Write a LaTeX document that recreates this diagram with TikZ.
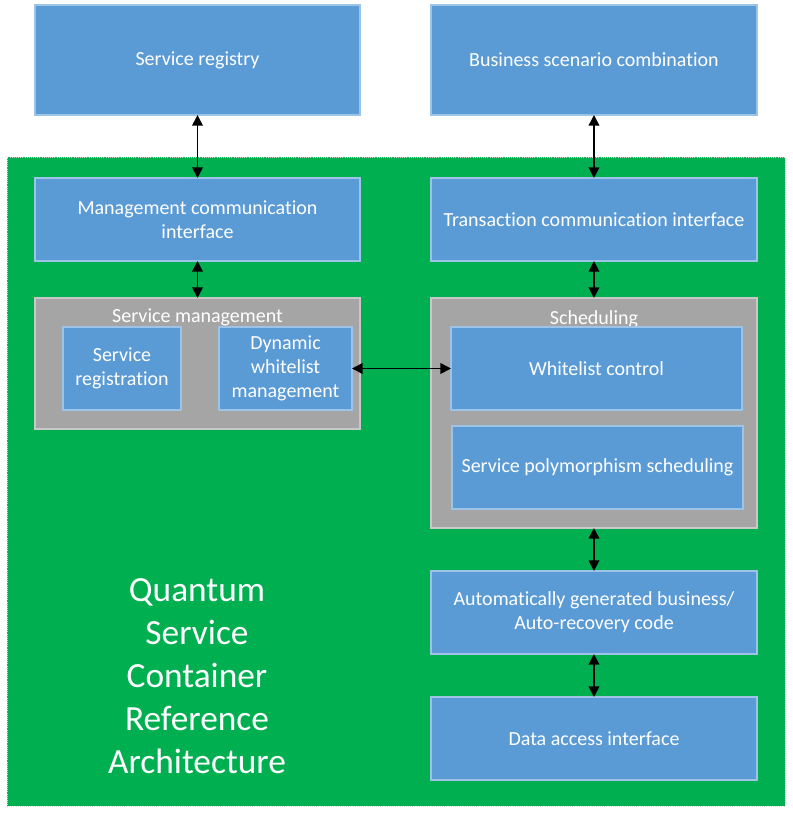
\documentclass[tikz,border=0pt]{standalone}
\usepackage{fontspec}
\setmainfont{Carlito}[Ligatures=NoCommon]
\usepackage{xcolor}
\usetikzlibrary{arrows.meta,positioning}

\definecolor{boxblue}{HTML}{5B9BD5}
\definecolor{boxedge}{HTML}{9DC3E6}
\definecolor{contgreen}{HTML}{00B050}
\definecolor{grpgray}{HTML}{A5A5A5}
\definecolor{grpedge}{HTML}{C8C8C8}

\begin{document}
\begin{tikzpicture}[x=0.75pt,y=-0.75pt,<->,>={Triangle[length=8pt,width=8pt]},line width=1.2pt]
      \tikzstyle{every node}=[inner sep=0pt,outer sep=0pt,text=white,font=\fontsize{15}{18}\selectfont,align=center]
      \tikzstyle{block}=[fill=boxblue,draw=boxedge,line width=0.8pt]
      \tikzstyle{group}=[fill=grpgray,draw=grpedge,line width=0.8pt]

      \useasboundingbox (0,0) rectangle (793,819);

      % container
      \node[fill=contgreen,draw=black!15,densely dotted,line width=0.6pt,minimum width=583.5pt,minimum height=486.75pt] (cont) at (396,481.5) {};

      % top row
      \node[block,minimum width=243.75pt,minimum height=82.5pt] (registry) at (197.5,60) {Service registry};
      \node[block,minimum width=244.5pt,minimum height=82.5pt] (business) at (594,60) {Business scenario combination};

      % left column
      \node[block,minimum width=243.75pt,minimum height=62.25pt] (mgmt) at (197.5,219.5) {Management communication\\interface};
      \node[group,minimum width=243.75pt,minimum height=98.25pt] (svcmgmt) at (197.5,363.5) {};
      \node (svcmgmttitle) at (197.5,317) {Service management};
      \node[block,minimum width=88.5pt,minimum height=62.25pt] (svcreg) at (122,368.5) {Service\\registration};
      \node[block,minimum width=99.75pt,minimum height=62.25pt] (dynwl) at (285.5,368.5) {Dynamic\\whitelist\\management};

      % right column
      \node[block,minimum width=244.5pt,minimum height=62.25pt] (trans) at (594,219.5) {Transaction communication interface};
      \node[group,minimum width=244.5pt,minimum height=172.5pt] (sched) at (594,413) {};
      \node (schedtitle) at (594,319) {Scheduling};
      \node[block,minimum width=218.25pt,minimum height=62.25pt] (wlctrl) at (596.5,368.5) {Whitelist control};
      \node[block,minimum width=218.25pt,minimum height=62.25pt] (poly) at (597.5,467.5) {Service polymorphism scheduling};
      \node[block,minimum width=244.5pt,minimum height=62.25pt] (autogen) at (594,612.5) {Automatically generated business/\\Auto-recovery code};
      \node[block,minimum width=244.5pt,minimum height=62.25pt] (dataacc) at (594,738.5) {Data access interface};

      % title
      \node[font=\fontsize{26.5}{32.25}\selectfont] (title) at (197,676) {Quantum\\Service\\Container\\Reference\\Architecture};

      \draw (registry) -- (mgmt);
      \draw (mgmt) -- (svcmgmt);
      \draw (business) -- (trans);
      \draw (trans) -- (sched);
      \draw (sched) -- (autogen);
      \draw (autogen) -- (dataacc);
      \draw (dynwl.east) -- (wlctrl.west);
\end{tikzpicture}
\end{document}
